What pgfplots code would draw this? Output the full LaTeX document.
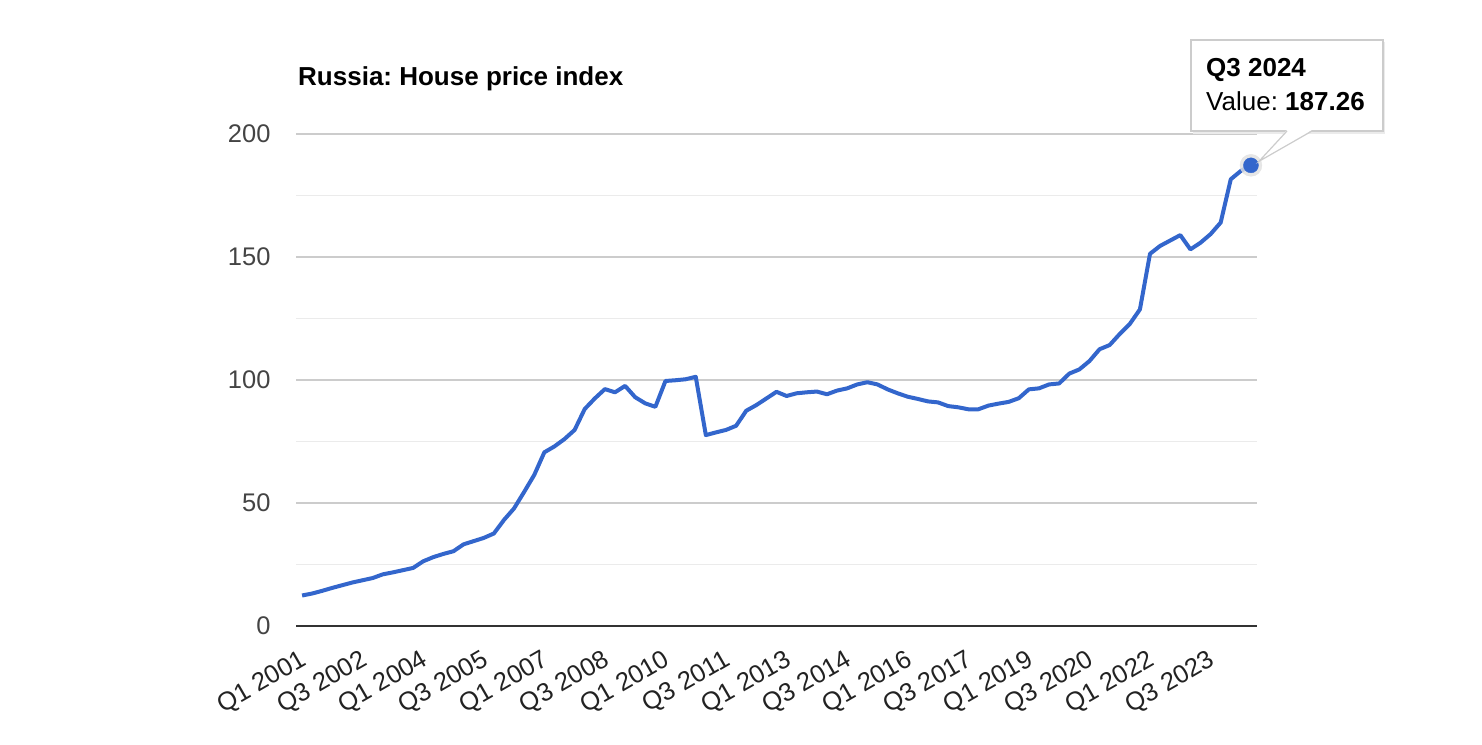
\documentclass[border=0pt]{standalone}
\usepackage{pgfplots}
\pgfplotsset{compat=1.18}
\usepackage{pgfplotstable}
\usepackage{fontspec}
\setmainfont{Liberation Sans}
\frenchspacing
\definecolor{lineblue}{HTML}{3366CC}
\definecolor{majgrid}{HTML}{CCCCCC}
\definecolor{mingrid}{HTML}{EBEBEB}
\definecolor{ticktxt}{HTML}{444444}
\definecolor{xtxt}{HTML}{222222}

% quarter index (0 = Q1 2001) and index value
\pgfplotstableread{
q v
0 12.4
1 13.2
2 14.3
3 15.5
4 16.6
5 17.7
6 18.6
7 19.5
8 21.0
9 21.8
10 22.7
11 23.6
12 26.3
13 28.0
14 29.3
15 30.4
16 33.2
17 34.5
18 35.8
19 37.6
20 43.1
21 47.8
22 54.5
23 61.4
24 70.6
25 73.0
26 76.0
27 79.7
28 88.2
29 92.5
30 96.3
31 95.0
32 97.6
33 93.0
34 90.5
35 89.1
36 99.6
37 99.9
38 100.3
39 101.3
40 77.6
41 78.7
42 79.7
43 81.4
44 87.5
45 89.8
46 92.5
47 95.2
48 93.5
49 94.6
50 95.0
51 95.3
52 94.2
53 95.7
54 96.6
55 98.2
56 99.1
57 98.2
58 96.2
59 94.6
60 93.2
61 92.3
62 91.3
63 90.9
64 89.4
65 88.9
66 88.1
67 88.1
68 89.6
69 90.4
70 91.1
71 92.6
72 96.2
73 96.6
74 98.2
75 98.6
76 102.6
77 104.3
78 107.7
79 112.5
80 114.2
81 118.7
82 122.8
83 128.7
84 151.3
85 154.5
86 156.7
87 158.9
88 153.1
89 155.8
90 159.3
91 164.0
92 181.6
93 185.0
94 187.26
}\hpi

\begin{document}
\begin{tikzpicture}[x=1pt,y=1pt]
\path[use as bounding box] (0,0) rectangle (1482,744);

\node[anchor=base west, inner sep=0pt, font=\fontsize{26}{30}\selectfont\bfseries] at (298,658) {Russia: House price index};

\begin{axis}[
    at={(296pt,118pt)}, anchor=south west,
    width=961pt, height=492pt, scale only axis,
    xmin=-0.6, xmax=94.6,
    ymin=0, ymax=200,
    clip=false,
    axis line style={draw=none},
    major tick length=0pt, minor tick length=0pt,
    xtick={0,6,...,90},
    xticklabels={Q1 2001,Q3 2002,Q1 2004,Q3 2005,Q1 2007,Q3 2008,Q1 2010,Q3 2011,Q1 2013,Q3 2014,Q1 2016,Q3 2017,Q1 2019,Q3 2020,Q1 2022,Q3 2023},
    xticklabel style={rotate=30, anchor=north east, text=xtxt, font=\fontsize{25.5}{30}\selectfont, inner sep=0pt, yshift=-18pt, xshift=-14pt},
    ytick={0,50,...,200},
    minor ytick={25,75,125,175},
    ymajorgrids, yminorgrids,
    major grid style={color=majgrid, line width=1.6pt},
    minor grid style={color=mingrid, line width=1.6pt},
    yticklabel style={text=ticktxt, font=\fontsize{25.5}{30}\selectfont, anchor=east, xshift=-22pt},
    /pgf/number format/assume math mode=true,
    extra y ticks={0},
    extra y tick labels={},
    extra y tick style={major grid style={color=black!80, line width=2.6pt}},
]
\addplot[color=lineblue, line width=4pt, line join=round] table[x=q, y=v] {\hpi};
\addplot[only marks, mark=*, mark size=11pt, color=black!12, opacity=0.8] coordinates {(94,187.26)};
\addplot[only marks, mark=*, mark size=7.5pt, color=lineblue] coordinates {(94,187.26)};
\coordinate (tip) at (axis cs:94,187.26);
\end{axis}

% tooltip
\fill[black!8] (1193,610) rectangle (1385,702);
\draw[majgrid, line width=1.4pt, fill=white] (1191,613) rectangle (1383,704);
\fill[white] (1287,614) -- ([shift={(8pt,4pt)}]tip) -- (1312,614) -- cycle;
\draw[majgrid, line width=1.2pt] (1287,613) -- ([shift={(8pt,4pt)}]tip) -- (1312,613);
\node[anchor=base west, inner sep=0pt, font=\fontsize{26}{30}\selectfont\bfseries] at (1206,667) {Q3 2024};
\node[anchor=base west, inner sep=0pt, font=\fontsize{26}{30}\selectfont] at (1206,633) {Value: \textbf{187.26}};
\end{tikzpicture}
\end{document}
